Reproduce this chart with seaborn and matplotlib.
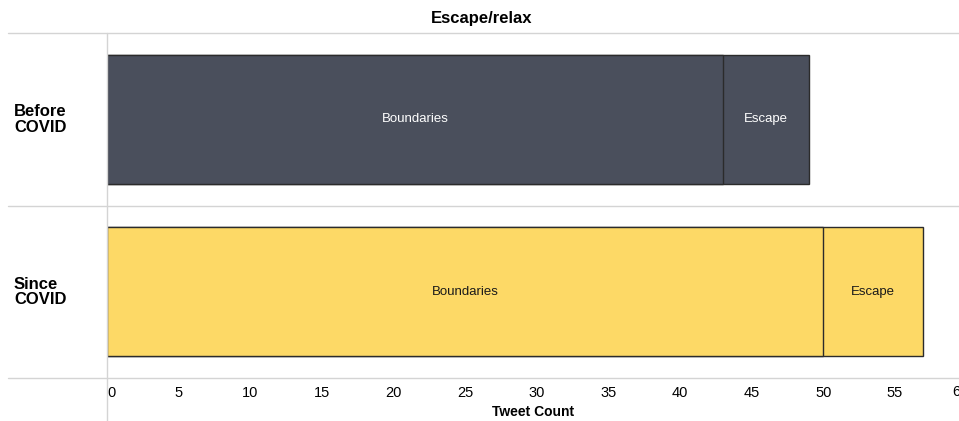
import pandas as pd
import matplotlib.pyplot as plt
from matplotlib.lines import Line2D
import seaborn as sns

# Data
periods = ["Before\nCOVID", "Since\nCOVID"]
boundaries = [43, 50]
escape = [6, 7]
bar_colors = ["#4a4f5c", "#fdd966"]
text_colors = ["white", "#1a1a1a"]

df = pd.DataFrame({"period": periods, "Boundaries": boundaries, "Escape": escape})
df["total"] = df["Boundaries"] + df["Escape"]

sns.set_style("white")
plt.rcParams['font.family'] = ['Liberation Sans', 'DejaVu Sans']
plt.rcParams['text.color'] = 'black'

fig = plt.figure(figsize=(9.59, 4.21), dpi=100)
ax = fig.add_axes([107 / 959, 1 - 378 / 421, 1 - 107 / 959, (378 - 33) / 421])

pal = dict(zip(periods, bar_colors))
# total bars first, boundaries drawn over them
sns.barplot(data=df, x="total", y="period", hue="period", palette=pal, orient="h",
            width=0.75, edgecolor="#2b2b2b", linewidth=1, saturation=1, legend=False, ax=ax)
sns.barplot(data=df, x="Boundaries", y="period", hue="period", palette=pal, orient="h",
            width=0.75, edgecolor="#2b2b2b", linewidth=1, saturation=1, legend=False, ax=ax)

# segment labels
for i in range(len(periods)):
    ax.text(boundaries[i] / 2, i, "Boundaries", ha="center", va="center",
            fontsize=9.5, color=text_colors[i])
    ax.text(boundaries[i] + escape[i] / 2, i, "Escape", ha="center", va="center",
            fontsize=9.5, color=text_colors[i])

ax.set_xlim(0, 59.48)
ax.set_ylim(1.5, -0.5)
ax.set_xticks(range(0, 60, 5))
ax.set_xticklabels([str(v) for v in range(0, 60, 5)], fontsize=10.5, color="black")
ax.get_xticklabels()[0].set_ha("left")
# last tick label is cut by the right edge, as in the original
fig.text(952 / 959, 1 - 392 / 421, "60", ha="left", va="center", fontsize=10.5)
ax.tick_params(axis="x", length=3, color="#cccccc", pad=3)
ax.set_yticks([])
ax.set_ylabel("")
ax.set_xlabel("Tweet Count", fontsize=10, fontweight="bold", labelpad=3, color="black")
for s in ax.spines.values():
    s.set_visible(False)

# row labels
for i, p in enumerate(periods):
    fig.text(14 / 959, 1 - (119.5 + 172.5 * i) / 421, p, ha="left", va="center",
             fontsize=12, fontweight="bold", linespacing=1.05)

# grid lines in the Tableau style
line_kw = dict(color="#d4d4d4", linewidth=1, transform=fig.transFigure)
for y in [33, 206, 378]:
    fig.add_artist(Line2D([8 / 959, 1], [1 - y / 421] * 2, **line_kw))
fig.add_artist(Line2D([107 / 959] * 2, [1 - 33 / 421, 0], **line_kw))

fig.text(482 / 959, 1 - 18 / 421, "Escape/relax", ha="center", va="center",
         fontsize=12, fontweight="bold")

plt.savefig("out.png", dpi=100)
